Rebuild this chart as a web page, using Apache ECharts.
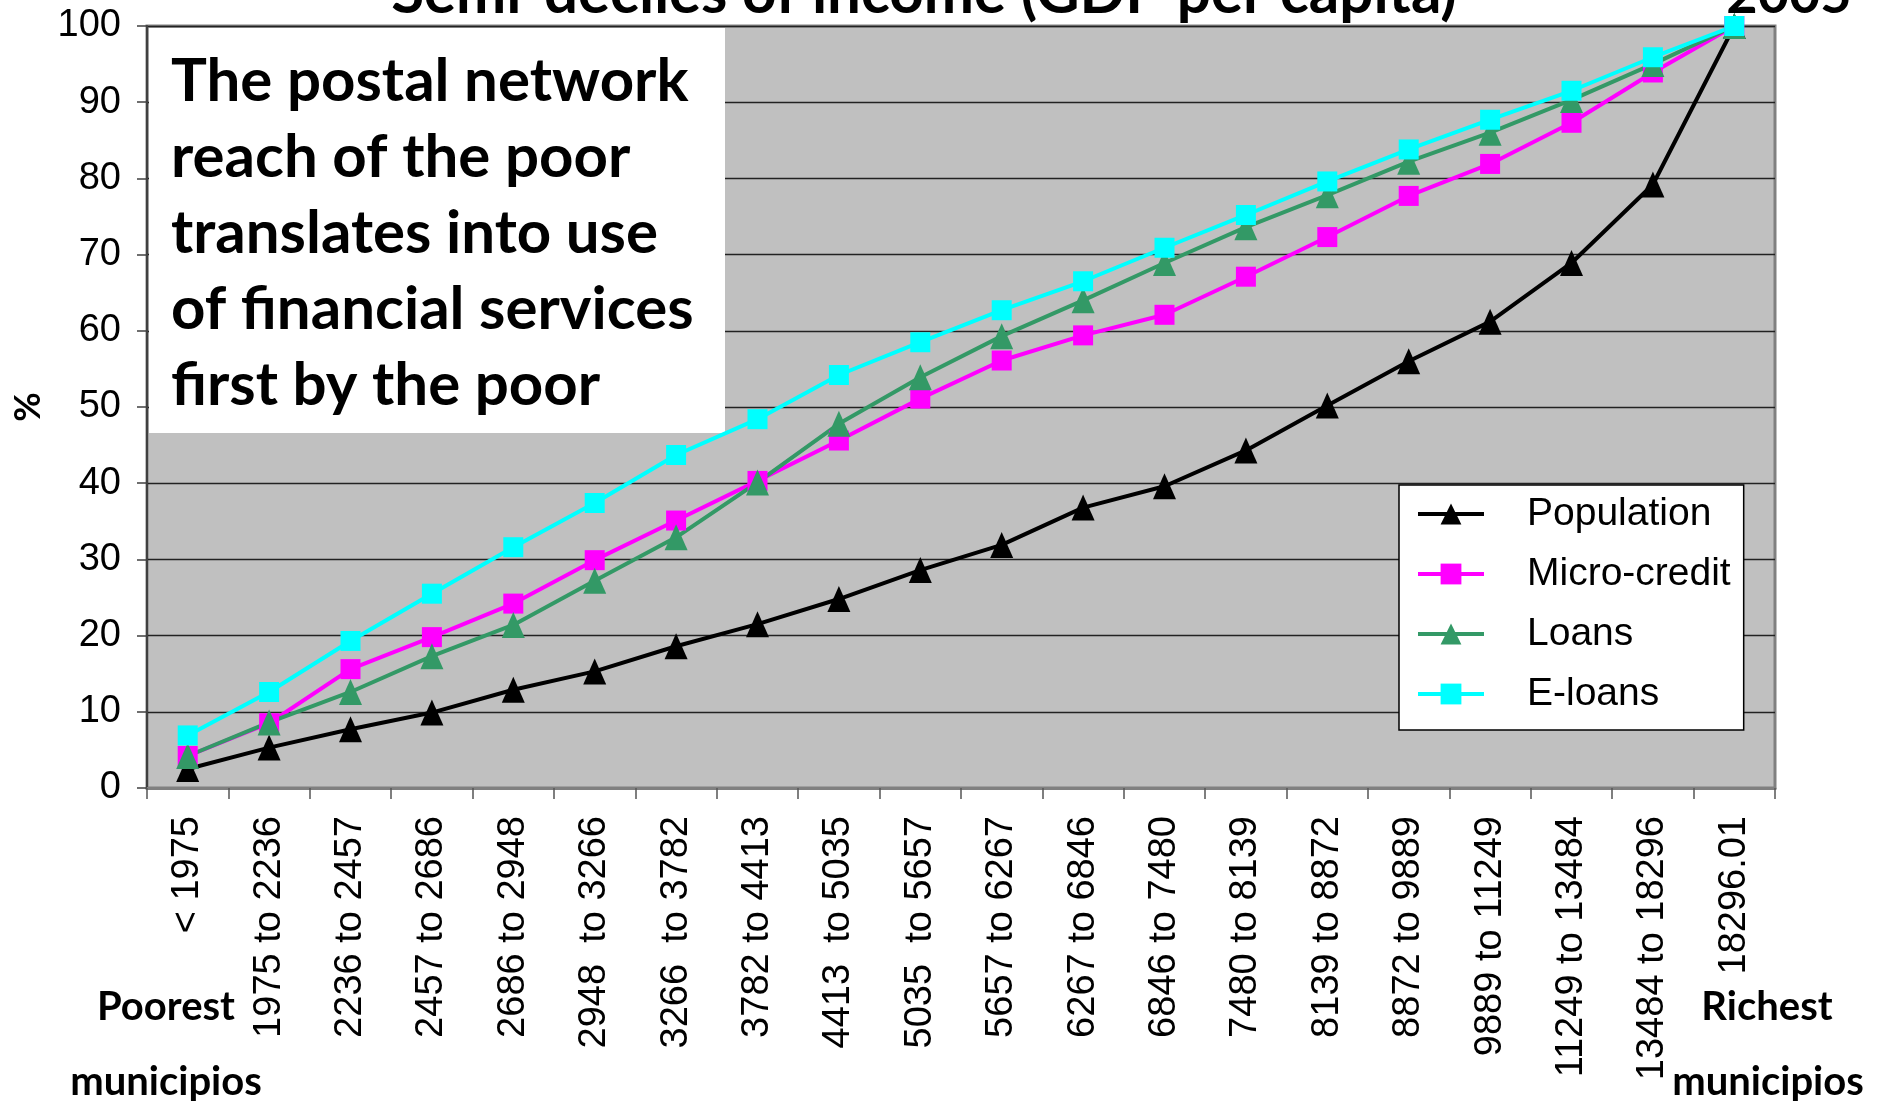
<!DOCTYPE html>
<html>
<head>
<meta charset="utf-8">
<script src="https://cdn.jsdelivr.net/npm/echarts@6/dist/echarts.min.js"></script>
<style>
html,body{margin:0;padding:0;background:#fff;}
#main{width:1877px;height:1101px;}
</style>
</head>
<body>
<div id="main"></div>
<script>
const categories = ['< 1975','1975 to 2236','2236 to 2457','2457 to 2686','2686 to 2948','2948  to 3266','3266  to 3782','3782 to 4413','4413  to 5035','5035  to 5657','5657 to 6267','6267 to 6846','6846 to 7480','7480 to 8139','8139 to 8872','8872 to 9889','9889 to 11249','11249 to 13484','13484 to 18296','> 18296.01'];
const population  = [2.5, 5.3, 7.7, 9.9, 12.9, 15.3, 18.6, 21.5, 24.8, 28.6, 31.9, 36.8, 39.6, 44.3, 50.2, 56.0, 61.2, 68.9, 79.2, 100];
const microCredit = [4.2, 8.5, 15.6, 19.8, 24.2, 29.9, 35.1, 40.3, 45.6, 51.1, 56.1, 59.4, 62.1, 67.1, 72.3, 77.7, 81.9, 87.3, 93.9, 100];
const loans       = [4.2, 8.6, 12.6, 17.3, 21.4, 27.2, 32.9, 40.1, 47.8, 53.9, 59.3, 64.0, 68.9, 73.6, 77.8, 82.2, 86.0, 90.3, 95.0, 100];
const eLoans      = [6.9, 12.6, 19.3, 25.5, 31.6, 37.4, 43.7, 48.4, 54.2, 58.5, 62.7, 66.5, 70.9, 75.2, 79.6, 83.8, 87.7, 91.5, 95.9, 100];
const yTicks = {min: 0, max: 100, interval: 10};
const titleText = 'Semi-deciles of income (GDP per capita)';
const yearText = '2005';
const boxText = 'The postal network\nreach of the poor\ntranslates into use\nof financial services\nfirst by the poor';

const chart = echarts.init(document.getElementById('main'), null, {renderer: 'canvas'});
const boldFont = 'Lato';
const sansFont = '"Liberation Sans", Arial, sans-serif';

function mkSeries(name, data, color, symbol, size) {
  return {
    name: name, type: 'line', data: data,
    symbol: symbol, symbolSize: size,
    lineStyle: {color: color, width: 4},
    itemStyle: {color: color},
    z: 3
  };
}

chart.setOption({
  animation: false,
  backgroundColor: '#ffffff',
  grid: {
    left: 147, right: 102, top: 26, bottom: 313,
    containLabel: false, outerBoundsMode: 'none',
    show: true, backgroundColor: '#C0C0C0', borderColor: '#808080', borderWidth: 3
  },
  xAxis: {
    type: 'category', data: categories, boundaryGap: true,
    axisLine: {lineStyle: {color: '#808080', width: 3}},
    axisTick: {show: true, length: 11, lineStyle: {color: '#555', width: 1.5}},
    axisLabel: {rotate: 90, interval: 0, margin: 28, fontFamily: sansFont, fontSize: 38, color: '#000'},
    splitLine: {show: false}
  },
  yAxis: {
    type: 'value', min: yTicks.min, max: yTicks.max, interval: yTicks.interval,
    name: '%', nameLocation: 'middle', nameGap: 97, nameRotate: 90,
    nameTextStyle: {fontFamily: boldFont, fontWeight: 'bold', fontSize: 36, color: '#000'},
    axisLine: {show: true, lineStyle: {color: '#404040', width: 2}},
    axisTick: {show: true, length: 10, lineStyle: {color: '#404040', width: 1.5}},
    axisLabel: {margin: 26, fontFamily: sansFont, fontSize: 38, color: '#000'},
    splitLine: {show: true, lineStyle: {color: '#222', width: 1.3}}
  },
  legend: {
    orient: 'vertical', left: 1399, top: 485,
    backgroundColor: '#ffffff', borderColor: '#000', borderWidth: 1.5,
    padding: [9, 13, 16, 17],
    itemWidth: 66, itemHeight: 26, itemGap: 20,
    lineStyle: {width: 4},
    textStyle: {fontFamily: sansFont, fontSize: 39, color: '#000', lineHeight: 40, padding: [0, 0, 0, 38]},
    data: ['Population', 'Micro-credit', 'Loans', 'E-loans']
  },
  series: [
    mkSeries('Population', population, '#000000', 'triangle', [23, 26]),
    mkSeries('Micro-credit', microCredit, '#FF00FF', 'rect', 20),
    mkSeries('Loans', loans, '#339966', 'triangle', [23, 26]),
    mkSeries('E-loans', eLoans, '#00FFFF', 'rect', 20)
  ],
  graphic: [
    {type: 'rect', z: 1, shape: {x: 149, y: 28, width: 576, height: 405}, style: {fill: '#ffffff'}},
    {type: 'text', z: 5, left: 171, top: 44,
     style: {text: boxText, font: 'bold 60px Lato', fill: '#000', lineHeight: 76, verticalAlign: 'top'}},
    {type: 'text', z: 5, x: 924, y: -6,
     style: {text: titleText, font: 'bold 60px Lato', fill: '#000', align: 'center', verticalAlign: 'middle'}},
    {type: 'text', z: 5, x: 1789, y: -4,
     style: {text: yearText, font: 'bold 54px Lato', fill: '#000', align: 'center', verticalAlign: 'middle'}},
    {type: 'text', z: 5, x: 166, y: 1007,
     style: {text: 'Poorest', font: 'bold 40px Lato', fill: '#000', align: 'center', verticalAlign: 'middle'}},
    {type: 'text', z: 5, x: 166, y: 1082,
     style: {text: 'municipios', font: 'bold 40px Lato', fill: '#000', align: 'center', verticalAlign: 'middle'}},
    {type: 'text', z: 5, x: 1767, y: 1007,
     style: {text: 'Richest', font: 'bold 40px Lato', fill: '#000', align: 'center', verticalAlign: 'middle', backgroundColor: '#fff'}},
    {type: 'text', z: 5, x: 1768, y: 1082,
     style: {text: 'municipios', font: 'bold 40px Lato', fill: '#000', align: 'center', verticalAlign: 'middle', backgroundColor: '#fff'}}
  ]
});
</script>
</body>
</html>
